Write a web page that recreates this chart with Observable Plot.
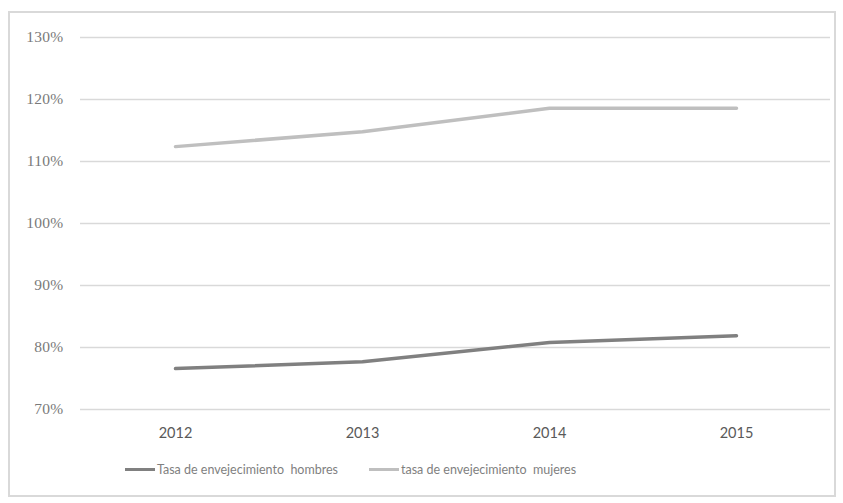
<!DOCTYPE html>
<html>
<head>
<meta charset="utf-8">
<script src="https://cdn.jsdelivr.net/npm/d3@7"></script>
<script src="https://cdn.jsdelivr.net/npm/@observablehq/plot@0.6"></script>
<style>
  html, body { margin: 0; padding: 0; background: #fff; }
  #frame { position: absolute; left: 8px; top: 11px; width: 828px; height: 486px; border: 2px solid #d9d9d9; box-sizing: border-box; }
  #chart { position: absolute; left: 0; top: 0; }
  #chart [aria-label="y-axis tick label"] text { font-family: "Liberation Serif", "DejaVu Serif", serif; font-size: 15.5px; letter-spacing: 0.3px; fill: #7a7a7a; }
  #chart [aria-label="x-axis tick label"] text { font-family: Lato, "Open Sans", sans-serif; font-size: 14.5px; fill: #595959; }
  #legend { position: absolute; top: 462px; left: 0; width: 843px; font-family: Lato, "Open Sans", sans-serif; font-size: 12.5px; color: #7f7f7f; }
  .item { position: absolute; display: flex; align-items: center; }
  .sw { width: 30px; height: 3px; margin-right: 2px; }
</style>
</head>
<body>
<div id="frame"></div>
<div id="chart"></div>
<div id="legend"></div>
<script>
const years = ["2012", "2013", "2014", "2015"];
const hombres = [0.766, 0.777, 0.808, 0.819];
const mujeres = [1.124, 1.148, 1.186, 1.186];
const yTicks = [0.7, 0.8, 0.9, 1.0, 1.1, 1.2, 1.3];
const seriesNames = ["Tasa de envejecimiento  hombres", "tasa de envejecimiento  mujeres"];
const seriesColors = ["#808080", "#bfbfbf"];

const rows = [
  ...years.map((y, i) => ({year: y, value: hombres[i], s: seriesNames[0]})),
  ...years.map((y, i) => ({year: y, value: mujeres[i], s: seriesNames[1]}))
];

const plot = Plot.plot({
  width: 843,
  height: 450,
  marginLeft: 80,
  marginRight: 13,
  marginTop: 37,
  marginBottom: 41,
  x: {type: "point", domain: years, padding: 0.5, label: null},
  y: {domain: [0.7, 1.3], label: null},
  color: {domain: seriesNames, range: seriesColors},
  style: {background: "transparent"},
  marks: [
    Plot.ruleY(yTicks, {stroke: "#d9d9d9", strokeWidth: 1.5}),
    Plot.axisY({ticks: yTicks, tickFormat: d => Math.round(d * 100) + "%", tickSize: 0, tickPadding: 17, label: null}),
    Plot.axisX({tickSize: 0, tickPadding: 18, label: null}),
    Plot.line(rows, {x: "year", y: "value", z: "s", stroke: "s", strokeWidth: 3.5})
  ]
});
document.getElementById("chart").appendChild(plot);

const lg = document.getElementById("legend");
const lefts = [125, 369];
seriesNames.forEach((n, i) => {
  const it = document.createElement("div");
  it.className = "item";
  it.style.left = lefts[i] + "px";
  const sw = document.createElement("span");
  sw.className = "sw";
  sw.style.background = seriesColors[i];
  const tx = document.createElement("span");
  tx.textContent = n;
  tx.style.whiteSpace = "pre";
  it.appendChild(sw);
  it.appendChild(tx);
  lg.appendChild(it);
});
</script>
</body>
</html>
